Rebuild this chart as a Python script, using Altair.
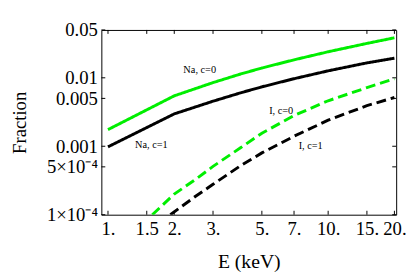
import altair as alt
import pandas as pd

# ---- data ----
series_names = ["Na, c=0", "Na, c=1", "I, c=0", "I, c=1"]

E_na = [1, 2, 3, 4, 5, 7, 10, 15, 20]
na_c0 = [0.00175, 0.00545, 0.00851, 0.01135, 0.0139, 0.0183, 0.0240, 0.0318, 0.0384]
na_c1 = [0.00098, 0.00297, 0.00455, 0.00603, 0.00737, 0.0097, 0.01264, 0.01652, 0.01935]

E_i0 = [1.59, 2, 2.5, 3, 4, 5, 7, 10, 15, 20]
i_c0 = [0.0001, 0.0002, 0.000328, 0.000508, 0.00095, 0.00155, 0.00281, 0.00462, 0.00718, 0.00966]

E_i1 = [1.92, 2.5, 3, 4, 5, 7, 10, 15, 20]
i_c1 = [0.0001, 0.000186, 0.000278, 0.00052, 0.0008, 0.0014, 0.0024, 0.00392, 0.00515]

label_text = ["Na, c=0", "Na, c=1", "I, c=0", "I, c=1"]
label_E = [2.61, 1.575, 6.12, 8.33]
label_val = [0.0129, 0.00104, 0.00332, 0.00101]

x_ticks = [1, 1.5, 2, 3, 5, 7, 10, 15, 20]
x_tick_labels = ["1.", "1.5", "2.", "3.", "5.", "7.", "10.", "15.", "20."]
y_ticks = [0.0001, 0.0005, 0.001, 0.005, 0.01, 0.05]
y_tick_labels = ["1×10⁻⁴", "5×10⁻⁴", "0.001", "0.005", "0.01", "0.05"]

# ---- build tables ----
rows = []
for name, xs, ys in zip(series_names, [E_na, E_na, E_i0, E_i1], [na_c0, na_c1, i_c0, i_c1]):
    for i, (e, v) in enumerate(zip(xs, ys)):
        rows.append({"series": name, "E": e, "val": v, "order": i})
df = pd.DataFrame(rows)
labels_df = pd.DataFrame({"text": label_text, "E": label_E, "val": label_val})
xt_df = pd.DataFrame({"E": x_ticks})
yt_df = pd.DataFrame({"val": y_ticks})


def label_expr(vals, labs):
    s = "''"
    for v, l in reversed(list(zip(vals, labs))):
        s = f"abs(datum.value-{v})<{v}*1e-6 ? '{l}' : " + s
    return s


W, H = 300, 188
FONT = "Liberation Serif"
xscale = alt.Scale(type="log", domain=[0.933, 20.37], nice=False)
yscale = alt.Scale(type="log", domain=[0.0001, 0.05], nice=False)

xaxis = alt.Axis(values=x_ticks, labelExpr=label_expr(x_ticks, x_tick_labels),
                 grid=False, ticks=False, domain=False, labelFont=FONT, labelFontSize=19,
                 labelColor="black", labelPadding=5, labelFlush=False, labelOverlap=False,
                 title="E (keV)", titleFont=FONT, titleFontSize=20, titleFontWeight="normal",
                 titleColor="black", titleX=150, titleY=54, titleBaseline="alphabetic",
                 titleAlign="center")
yaxis = alt.Axis(values=y_ticks, labelExpr=label_expr(y_ticks, y_tick_labels),
                 grid=False, ticks=False, domain=False, labelFont=FONT, labelFontSize=19,
                 labelColor="black", labelPadding=4, labelFlush=False, labelOverlap=False,
                 title="Fraction", titleFont=FONT, titleFontSize=19, titleFontWeight="normal",
                 titleColor="black", titleX=-77, titleY=94, titleAngle=-90,
                 titleBaseline="alphabetic", titleAlign="center")

X = alt.X("E:Q", scale=xscale, axis=xaxis)
Y = alt.Y("val:Q", scale=yscale, axis=yaxis)

lines = alt.Chart(df).mark_line(strokeWidth=3, clip=True).encode(
    x=X, y=Y,
    color=alt.Color("series:N", scale=alt.Scale(domain=series_names,
                    range=["#00ee00", "#000000", "#00ee00", "#000000"]), legend=None),
    strokeDash=alt.StrokeDash("series:N", scale=alt.Scale(domain=series_names,
                    range=[[1, 0], [1, 0], [10, 5], [10, 5]]), legend=None),
    detail="series:N",
    order="order:Q",
)

texts = alt.Chart(labels_df).mark_text(font=FONT, fontSize=10.5, color="black",
                                       align="center", baseline="middle").encode(
    x=X, y=Y, text="text:N",
)

tick_len = 4
xt_bottom = alt.Chart(xt_df).mark_rule(color="black", strokeWidth=1).encode(
    x=X, y=alt.value(H), y2=alt.value(H - tick_len))
xt_top = alt.Chart(xt_df).mark_rule(color="black", strokeWidth=1).encode(
    x=X, y=alt.value(0), y2=alt.value(tick_len))
yt_left = alt.Chart(yt_df).mark_rule(color="black", strokeWidth=1).encode(
    y=Y, x=alt.value(0), x2=alt.value(tick_len))
yt_right = alt.Chart(yt_df).mark_rule(color="black", strokeWidth=1).encode(
    y=Y, x=alt.value(W), x2=alt.value(W - tick_len))

chart = alt.layer(lines, texts, xt_bottom, xt_top, yt_left, yt_right).properties(
    width=W, height=H,
    autosize=alt.AutoSizeParams(type="none"),
    padding={"left": 95, "top": 20, "right": 10, "bottom": 58},
).configure_view(stroke="black", strokeWidth=1)

chart.save("out.html", embed_options={"renderer": "svg", "actions": False})
